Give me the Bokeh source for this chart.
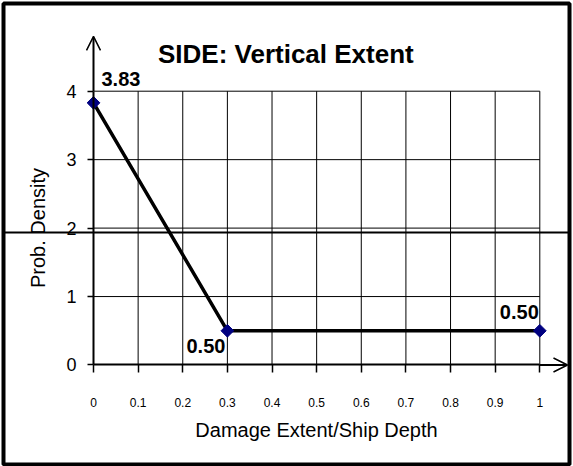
import numpy as np
from bokeh.plotting import figure
from bokeh.models import (LinearAxis, FixedTicker, Range1d, Span, Arrow,
                          OpenHead, Label)
from bokeh.embed import file_html
from bokeh.resources import INLINE
from bokeh.core.properties import value

# ---- data ----
x_vals = [0.0, 0.3, 1.0]
y_vals = [3.83, 0.50, 0.50]
x_ticks = [0, 0.1, 0.2, 0.3, 0.4, 0.5, 0.6, 0.7, 0.8, 0.9, 1.0]
x_tick_labels = ["0", "0.1", "0.2", "0.3", "0.4", "0.5", "0.6", "0.7", "0.8", "0.9", "1"]
y_ticks = [0, 1, 2, 3, 4]
title_text = "SIDE: Vertical Extent"
x_title = "Damage Extent/Ship Depth"
y_title = "Prob. Density"
stray_line_y = 1.936

FONT = "Liberation Sans"
W, H = 573, 466

p = figure(width=W, height=H, output_backend="svg", toolbar_location=None,
           x_axis_type=None, y_axis_type=None,
           x_range=Range1d(-0.20166, 1.06655), y_range=Range1d(-1.45362, 5.28123),
           min_border_left=3, min_border_right=4, min_border_top=3,
           min_border_bottom=2)
p.background_fill_color = "white"
p.border_fill_color = "white"
p.outline_line_color = "black"
p.outline_line_width = 4

# grid lines (only inside data region)
gx = x_ticks[1:]
p.segment(x0=gx, y0=[y_ticks[0]] * len(gx), x1=gx, y1=[y_ticks[-1]] * len(gx),
          line_color="black", line_width=1)
gy = y_ticks[1:]
p.segment(x0=[x_ticks[0]] * len(gy), y0=gy, x1=[x_ticks[-1]] * len(gy), y1=gy,
          line_color="black", line_width=1)

# stray horizontal line across chart
p.add_layout(Span(location=stray_line_y, dimension="width", line_color="black",
                  line_width=2))

# axes
xaxis = LinearAxis(fixed_location=0, bounds=(x_ticks[0], x_ticks[-1]),
                   ticker=FixedTicker(ticks=x_ticks),
                   major_label_overrides={t: l for t, l in zip(x_ticks, x_tick_labels)},
                   axis_label=x_title)
xaxis.axis_line_width = 2
xaxis.major_tick_out = 8
xaxis.major_tick_in = 0
xaxis.major_tick_line_width = 1.5
xaxis.minor_tick_line_color = None
xaxis.major_label_standoff = 25
xaxis.major_label_text_font = FONT
xaxis.major_label_text_font_size = "12px"
xaxis.major_label_text_color = "black"
xaxis.axis_label_text_font = FONT
xaxis.axis_label_text_font_size = "20px"
xaxis.axis_label_text_font_style = "normal"
xaxis.axis_label_text_color = "black"
xaxis.axis_label_standoff = 9
p.add_layout(xaxis, "below")

yaxis = LinearAxis(fixed_location=0, bounds=(y_ticks[0], y_ticks[-1]),
                   ticker=FixedTicker(ticks=y_ticks), axis_label=y_title)
yaxis.axis_line_width = 2
yaxis.major_tick_out = 6
yaxis.major_tick_in = 0
yaxis.major_tick_line_width = 1.5
yaxis.minor_tick_line_color = None
yaxis.major_label_standoff = 11
yaxis.major_label_text_font = FONT
yaxis.major_label_text_font_size = "18px"
yaxis.major_label_text_color = "black"
yaxis.axis_label_text_font = FONT
yaxis.axis_label_text_font_size = "20px"
yaxis.axis_label_text_font_style = "normal"
yaxis.axis_label_text_color = "black"
yaxis.axis_label_standoff = 14
p.add_layout(yaxis, "left")

# axis arrows
p.add_layout(Arrow(x_start=x_ticks[0], y_start=y_ticks[-1], x_end=x_ticks[0], y_end=4.8,
                   line_width=2, line_color="black",
                   end=OpenHead(size=14, line_width=1.5, line_color="black")))
p.add_layout(Arrow(x_start=x_ticks[-1], y_start=y_ticks[0], x_end=1.062, y_end=y_ticks[0],
                   line_width=2, line_color="black",
                   end=OpenHead(size=14, line_width=1.5, line_color="black")))

# data
p.line(x_vals, y_vals, line_color="black", line_width=3.5)
p.scatter(x_vals, y_vals, marker="square", angle=np.pi / 4, size=9,
          fill_color="#000080", line_color="#000080")

label_text = [f"{v:.2f}" for v in y_vals]
common = dict(text_font=value(FONT), text_font_style="bold", text_font_size="20px",
              text_color="black", text_baseline="alphabetic")
p.text(x=[x_vals[0]], y=[y_vals[0]], text=[label_text[0]], text_align="left",
       x_offset=8, y_offset=-24, **common)
p.text(x=[x_vals[1]], y=[y_vals[1]], text=[label_text[1]], text_align="right",
       x_offset=-2, y_offset=15, **common)
p.text(x=[x_vals[2]], y=[y_vals[2]], text=[label_text[2]], text_align="right",
       x_offset=-1, y_offset=-19, **common)

# title
p.add_layout(Label(x=0.431, y=4.55, text=title_text, text_align="center",
                   text_baseline="alphabetic", text_font=FONT,
                   text_font_style="bold", text_font_size="26px",
                   text_color="black"))

open("out.html", "w").write(file_html(p, INLINE))
